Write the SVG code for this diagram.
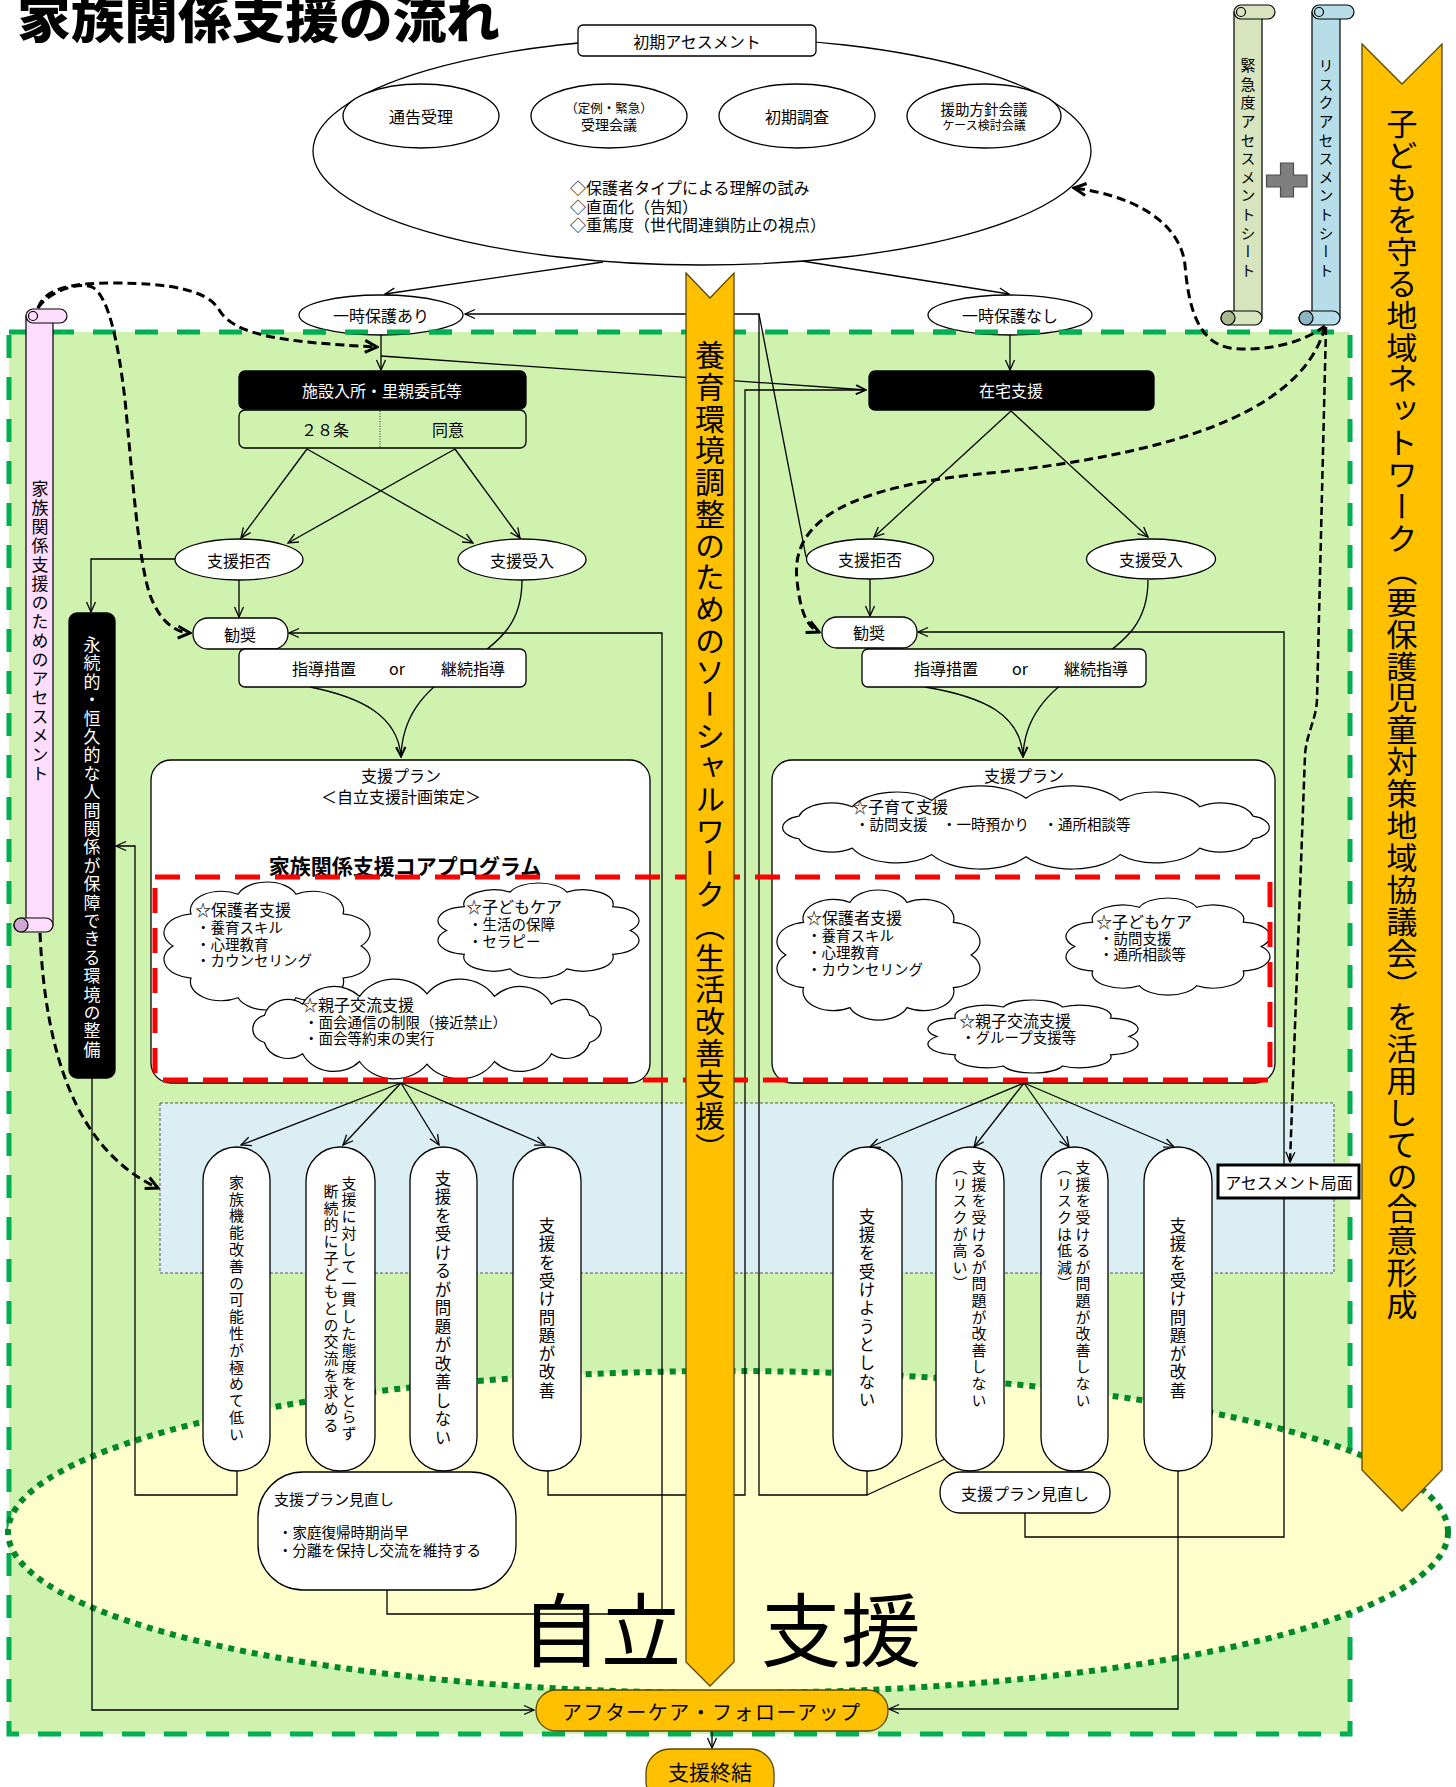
<svg xmlns="http://www.w3.org/2000/svg" width="1456" height="1787" viewBox="0 0 1456 1787" font-size="16">
<style>
.t{font-family:"Noto Sans CJK JP","Noto Sans",sans-serif;fill:#000}
.w{fill:#fff}
.c{text-anchor:middle;dominant-baseline:central}
.m{dominant-baseline:central}
.v{writing-mode:vertical-rl}
.vm{writing-mode:vertical-rl;text-anchor:middle}
.ln{fill:none;stroke:#000;stroke-width:1.3}
.dl{fill:none;stroke:#000;stroke-width:3;stroke-dasharray:9 5}
.wn{fill:#fff;stroke:#000;stroke-width:1.3}
.bk{fill:#000;stroke:#000;stroke-width:1.3}
.or{fill:#FFC000;stroke:#5a4800;stroke-width:1.3}
.cl{fill:#fff;stroke:#000;stroke-width:1.2}
</style>
<defs>
<marker id="a" viewBox="0 0 12 12" refX="11" refY="6" markerWidth="12" markerHeight="12" markerUnits="userSpaceOnUse" orient="auto"><path d="M1,1.5 L11,6 L1,10.5" fill="none" stroke="#000" stroke-width="1.3"/></marker>
<marker id="ad" viewBox="0 0 16 16" refX="14" refY="8" markerWidth="16" markerHeight="16" markerUnits="userSpaceOnUse" orient="auto"><path d="M2,2 L14,8 L2,14" fill="none" stroke="#000" stroke-width="3"/></marker>
<path id="cloud" class="cl" vector-effect="non-scaling-stroke" d="M7 42.3 A12.5 12.5 0 0 1 14.3 21.1 A12.5 12.5 0 0 1 33.3 8.1 A12.5 12.5 0 0 1 56.7 8.1 A12.5 12.5 0 0 1 75.7 21.1 A12.5 12.5 0 0 1 83 42.3 A12.5 12.5 0 0 1 75.7 63.5 A12.5 12.5 0 0 1 56.7 76.5 A12.5 12.5 0 0 1 33.3 76.5 A12.5 12.5 0 0 1 14.3 63.5 A12.5 12.5 0 0 1 7 42.3 Z"/>
<path id="cloudw" class="cl" vector-effect="non-scaling-stroke" d="M18.7 37.7 A8 8 0 0 1 18.7 22.3 A12 12 0 0 1 37.8 15.9 A17.3 17.3 0 0 1 66.3 11.5 A20.2 20.2 0 0 1 100 10 A20.2 20.2 0 0 1 133.7 11.5 A17.3 17.3 0 0 1 162.2 15.9 A12 12 0 0 1 181.3 22.3 A8 8 0 0 1 181.3 37.7 A12 12 0 0 1 162.2 44.1 A17.3 17.3 0 0 1 133.7 48.5 A20.2 20.2 0 0 1 100 50 A20.2 20.2 0 0 1 66.3 48.5 A17.3 17.3 0 0 1 37.8 44.1 A12 12 0 0 1 18.7 37.7 Z"/>
<clipPath id="ovl"><rect x="295" y="320" width="175" height="20"/><rect x="925" y="320" width="172" height="20"/></clipPath>
</defs>

<rect width="1456" height="1787" fill="#fff"/>

<!-- background regions -->
<g id="regions">
<rect x="9" y="332" width="1341" height="1402" fill="#CFF3AF" stroke="#00B050" stroke-width="5" stroke-dasharray="23 19"/>
<ellipse cx="728" cy="1532" rx="720" ry="161" fill="#FFFFCC" stroke="#00882A" stroke-width="6" stroke-dasharray="6 6"/>
<rect x="160" y="1103" width="1174" height="170" fill="#DAEEF3" stroke="#555" stroke-width="1" stroke-dasharray="3 2"/>
</g>

<text class="t" x="521" y="1660" font-size="80">自立　支援</text>

<!-- connectors -->
<g id="connectors">
<path class="ln" marker-end="url(#a)" d="M499 116 L530 116"/>
<path class="ln" marker-end="url(#a)" d="M687 116 L718 116"/>
<path class="ln" marker-end="url(#a)" d="M875 116 L905 116"/>
<path class="ln" marker-end="url(#a)" d="M603 262 L385 294"/>
<path class="ln" marker-end="url(#a)" d="M802 261 L1009 294"/>
<path class="ln" marker-end="url(#a)" d="M381 335 L381 370"/>
<path class="ln" marker-end="url(#a)" d="M381 356 L866 390"/>
<path class="ln" marker-end="url(#a)" d="M1010 335 L1010 370"/>
<path class="ln" marker-end="url(#a)" d="M307 449 L241 538"/>
<path class="ln" marker-end="url(#a)" d="M307 449 L473 543"/>
<path class="ln" marker-end="url(#a)" d="M455 449 L288 543"/>
<path class="ln" marker-end="url(#a)" d="M455 449 L520 538"/>
<path class="ln" marker-end="url(#a)" d="M1011 411 L874 537"/>
<path class="ln" marker-end="url(#a)" d="M1011 411 L1148 537"/>
<path class="ln" marker-end="url(#a)" d="M239 580 L239 617"/>
<path class="ln" marker-end="url(#a)" d="M870 579 L870 616"/>
<path class="ln" marker-end="url(#a)" d="M175 559 L91 559 L91 612"/>
<path class="ln" marker-end="url(#a)" d="M522 580 C522 620 505 640 460 668 C420 692 402 720 401 757"/>
<path class="ln" marker-end="url(#a)" d="M310 687 C360 697 398 715 401 757"/>
<path class="ln" marker-end="url(#a)" d="M1148 580 C1148 620 1130 640 1085 668 C1045 692 1024 720 1023 757"/>
<path class="ln" marker-end="url(#a)" d="M925 687 C985 697 1021 715 1023 757"/>
<path class="ln" marker-end="url(#a)" d="M401 1083 L241 1145"/>
<path class="ln" marker-end="url(#a)" d="M401 1083 L343 1145"/>
<path class="ln" marker-end="url(#a)" d="M401 1083 L439 1145"/>
<path class="ln" marker-end="url(#a)" d="M401 1083 L545 1145"/>
<path class="ln" marker-end="url(#a)" d="M1024 1083 L870 1147"/>
<path class="ln" marker-end="url(#a)" d="M1024 1083 L974 1147"/>
<path class="ln" marker-end="url(#a)" d="M1024 1083 L1069 1147"/>
<path class="ln" marker-end="url(#a)" d="M1024 1083 L1174 1147"/>
<path class="ln" marker-end="url(#a)" d="M237 1471 L237 1495 L135 1495 L135 846 L116 846"/>
<path class="ln" marker-end="url(#a)" d="M92 1078 L92 1710 L534 1710"/>
<path class="ln" marker-end="url(#a)" d="M548 1471 L548 1495 L745 1495 L745 390 L866 390"/>
<path class="ln" marker-end="url(#a)" d="M387 1590 L387 1614 L662 1614 L662 633 L289 633"/>
<path class="ln" marker-end="url(#a)" d="M867 1471 L867 1495 L759 1495 L759 314 L465 314"/>
<path class="ln" d="M945 1459 L867 1495"/>
<path class="ln" d="M806 557 L759 314"/>
<path class="ln" marker-end="url(#a)" d="M1025 1513 L1025 1537 L1284 1537 L1284 632 L918 632"/>
<path class="ln" marker-end="url(#a)" d="M1178 1471 L1178 1709 L889 1709"/>
<path class="ln" marker-end="url(#a)" d="M712 1731 L712 1748"/>
<path class="dl" marker-end="url(#ad)" d="M1325 326 C1300 345 1260 352 1230 348 C1195 342 1188 300 1185 265 C1180 220 1130 195 1074 188"/>
<path fill="none" stroke="#000" stroke-width="2.5" stroke-dasharray="8 4" marker-end="url(#a)" d="M1326 327 L1317 700 C1316 720 1306 735 1305 755 L1290 1162"/>
<path class="dl" marker-end="url(#ad)" d="M1325 327 C1300 420 1150 455 1000 472 C850 485 790 520 797 580 C800 610 806 626 819 632"/>
<path class="dl" marker-end="url(#ad)" d="M38 308 C45 287 75 283 113 283 C170 283 205 290 218 308 C232 335 280 342 377 347"/>
<path class="dl" marker-end="url(#ad)" d="M38 308 C50 290 80 282 92 287 C108 295 118 340 125 400 C132 470 138 560 150 595 C160 622 175 632 190 633"/>
<path class="dl" marker-end="url(#ad)" d="M40 933 C45 1050 75 1150 158 1188"/>
</g>

<!-- title -->
<text id="title" class="t" x="17" y="38" font-size="50" font-weight="900" textLength="483" lengthAdjust="spacingAndGlyphs">家族関係支援の流れ</text>

<!-- initial assessment -->
<g id="initial">
<ellipse class="wn" cx="702" cy="151" rx="389" ry="114"/>
<rect class="wn" x="578" y="25" width="238" height="31" rx="5"/>
<text class="t c" x="697" y="40.5">初期アセスメント</text>
<text class="t m" x="570" y="186.5">◇保護者タイプによる理解の試み</text>
<text class="t m" x="570" y="205.5">◇直面化（告知）</text>
<text class="t m" x="570" y="223.5">◇重篤度（世代間連鎖防止の視点）</text>
</g>
<g id="tsukoku"><ellipse class="wn" cx="421" cy="116" rx="78" ry="32"/><text class="t c" x="421" y="116">通告受理</text></g>
<g id="juri"><ellipse class="wn" cx="609" cy="116" rx="78" ry="32"/><text class="t c" x="609" y="107.5" font-size="12.5">（定例・緊急）</text><text class="t c" x="609" y="123.5" font-size="14">受理会議</text></g>
<g id="shoki"><ellipse class="wn" cx="797" cy="116" rx="78" ry="32"/><text class="t c" x="797" y="116">初期調査</text></g>
<g id="enjo"><ellipse class="wn" cx="984" cy="116" rx="77" ry="32"/><text class="t c" x="984" y="108.5" font-size="14.5">援助方針会議</text><text class="t c" x="984" y="124" font-size="12">ケース検討会議</text></g>

<g id="hogo-ari"><ellipse class="wn" cx="381" cy="315" rx="82" ry="20"/><text class="t c" x="381" y="315">一時保護あり</text></g>
<g id="hogo-nashi"><ellipse class="wn" cx="1010" cy="315" rx="82" ry="20"/><text class="t c" x="1010" y="315">一時保護なし</text></g>

<line x1="9" y1="332" x2="1350" y2="332" stroke="#00B050" stroke-width="5" stroke-dasharray="23 19" clip-path="url(#ovl)"/>

<!-- left branch -->
<g id="shisetsu"><rect class="bk" x="239" y="371" width="287" height="38" rx="6"/><text class="t c w" x="382" y="390">施設入所・里親委託等</text></g>
<g id="jo28"><rect x="239" y="410" width="287" height="38" rx="6" fill="none" stroke="#000" stroke-width="1.3"/><line x1="380" y1="411" x2="380" y2="447" stroke="#000" stroke-width="0.8" stroke-dasharray="1 1.5"/><text class="t c" x="325" y="429">２８条</text><text class="t c" x="448" y="429">同意</text></g>
<g id="kyohi-l"><ellipse class="wn" cx="239" cy="559.5" rx="64" ry="20.5"/><text class="t c" x="239" y="560">支援拒否</text></g>
<g id="ukeire-l"><ellipse class="wn" cx="522" cy="559.5" rx="64" ry="20.5"/><text class="t c" x="522" y="560">支援受入</text></g>
<g id="kansho-l"><rect class="wn" x="193" y="618" width="95" height="31" rx="15"/><text class="t c" x="240" y="634">勧奨</text></g>
<g id="shido-l"><rect class="wn" x="239" y="649" width="287" height="38" rx="6"/><text class="t c" x="324" y="668">指導措置</text><text class="t c" x="397" y="668">or</text><text class="t c" x="473" y="668">継続指導</text></g>

<!-- right branch -->
<g id="zaitaku"><rect class="bk" x="869" y="371" width="285" height="39" rx="6"/><text class="t c w" x="1011" y="390">在宅支援</text></g>
<g id="kyohi-r"><ellipse class="wn" cx="870" cy="559" rx="63.5" ry="20"/><text class="t c" x="870" y="559">支援拒否</text></g>
<g id="ukeire-r"><ellipse class="wn" cx="1151" cy="559" rx="64.5" ry="20"/><text class="t c" x="1151" y="559">支援受入</text></g>
<g id="kansho-r"><rect class="wn" x="822" y="617" width="95" height="31" rx="15"/><text class="t c" x="869" y="632">勧奨</text></g>
<g id="shido-r"><rect class="wn" x="862" y="649" width="284" height="38" rx="6"/><text class="t c" x="946" y="668">指導措置</text><text class="t c" x="1020" y="668">or</text><text class="t c" x="1096" y="668">継続指導</text></g>

<!-- support plans -->
<g id="plan-l">
<rect class="wn" x="151" y="760" width="499" height="323" rx="20"/>
<text class="t c" x="401" y="775">支援プラン</text>
<text class="t c" x="401" y="796">＜自立支援計画策定＞</text>
<text class="t c" x="405" y="865" font-size="21" font-weight="bold">家族関係支援コアプログラム</text>
<use href="#cloud" transform="translate(155.6 882) scale(2.476 1.513)"/>
<text class="t" x="195" y="916">☆保護者支援</text>
<text class="t" x="196" y="933" font-size="14.5">・養育スキル</text>
<text class="t" x="196" y="950" font-size="14.5">・心理教育</text>
<text class="t" x="196" y="966" font-size="14.5">・カウンセリング</text>
<use href="#cloud" transform="translate(429.8 883) scale(2.415 1.123)"/>
<text class="t" x="466" y="913">☆子どもケア</text>
<text class="t" x="468" y="930" font-size="14.5">・生活の保障</text>
<text class="t" x="468" y="947" font-size="14.5">・セラピー</text>
<use href="#cloudw" transform="translate(227 976.2) scale(2.0 1.759)"/>
<text class="t" x="302" y="1011">☆親子交流支援</text>
<text class="t" x="304" y="1028" font-size="14.5">・面会通信の制限（接近禁止）</text>
<text class="t" x="304" y="1044" font-size="14.5">・面会等約束の実行</text>
</g>
<g id="plan-r">
<rect class="wn" x="772" y="760" width="503" height="323" rx="20"/>
<text class="t c" x="1024" y="775">支援プラン</text>
<use href="#cloudw" transform="translate(746.7 783.5) scale(2.793 1.466)"/>
<text class="t" x="852" y="813">☆子育て支援</text>
<text class="t" x="855" y="830" font-size="14.5">・訪問支援　・一時預かり　・通所相談等</text>
<use href="#cloud" transform="translate(768.7 890) scale(2.439 1.537)"/>
<text class="t" x="806" y="924">☆保護者支援</text>
<text class="t" x="807" y="941" font-size="14.5">・養育スキル</text>
<text class="t" x="807" y="958" font-size="14.5">・心理教育</text>
<text class="t" x="807" y="975" font-size="14.5">・カウンセリング</text>
<use href="#cloud" transform="translate(1057.7 898) scale(2.451 1.147)"/>
<text class="t" x="1096" y="928">☆子どもケア</text>
<text class="t" x="1099" y="944" font-size="14.5">・訪問支援</text>
<text class="t" x="1099" y="960" font-size="14.5">・通所相談等</text>
<use href="#cloud" transform="translate(919.4 1000) scale(2.524 0.863)"/>
<text class="t" x="959" y="1027">☆親子交流支援</text>
<text class="t" x="961" y="1043" font-size="14.5">・グループ支援等</text>
</g>
<rect id="core-program" x="155" y="877" width="1115" height="203" fill="none" stroke="#FF0000" stroke-width="5" stroke-dasharray="25 15"/>

<!-- outcome pills left -->
<g id="pill-l1"><rect class="wn" x="203" y="1147" width="67" height="324" rx="33.5"/><text class="t vm" x="236.5" y="1309" font-size="15" letter-spacing="1.8">家族機能改善の可能性が極めて低い</text></g>
<g id="pill-l2"><rect class="wn" x="306" y="1147" width="69" height="324" rx="34"/><text class="t vm" x="349" y="1309" font-size="15" letter-spacing="1.7">支援に対して一貫した態度をとらず</text><text class="t vm" x="331" y="1309" font-size="15" letter-spacing="1.7">断続的に子どもとの交流を求める</text></g>
<g id="pill-l3"><rect class="wn" x="410" y="1147" width="67" height="324" rx="33.5"/><text class="t vm" x="443" y="1309" font-size="16.5" letter-spacing="2">支援を受けるが問題が改善しない</text></g>
<g id="pill-l4"><rect class="wn" x="513" y="1147" width="68" height="324" rx="34"/><text class="t vm" x="547" y="1309" font-size="16.5" letter-spacing="1.8">支援を受け問題が改善</text></g>
<!-- outcome pills right -->
<g id="pill-r1"><rect class="wn" x="833" y="1147" width="69" height="324" rx="34"/><text class="t vm" x="867" y="1309" font-size="16.5" letter-spacing="1.8">支援を受けようとしない</text></g>
<g id="pill-r2"><rect class="wn" x="936" y="1147" width="68" height="324" rx="34"/><text class="t v" x="979" y="1160" font-size="15" letter-spacing="1.6">支援を受けるが問題が改善しない</text><text class="t v" x="960" y="1160" font-size="15" letter-spacing="1.6">（リスクが高い）</text></g>
<g id="pill-r3"><rect class="wn" x="1041" y="1147" width="67" height="324" rx="33.5"/><text class="t v" x="1083" y="1160" font-size="15" letter-spacing="1.6">支援を受けるが問題が改善しない</text><text class="t v" x="1064.5" y="1160" font-size="15" letter-spacing="1.6">（リスクは低減）</text></g>
<g id="pill-r4"><rect class="wn" x="1144" y="1147" width="68" height="324" rx="34"/><text class="t vm" x="1178" y="1309" font-size="16.5" letter-spacing="1.8">支援を受け問題が改善</text></g>

<g id="review-l"><rect class="wn" x="258" y="1472" width="258" height="118" rx="45"/><text class="t m" x="274" y="1498" font-size="15">支援プラン見直し</text><text class="t m" x="278" y="1531" font-size="14.5">・家庭復帰時期尚早</text><text class="t m" x="278" y="1549" font-size="14.5">・分離を保持し交流を維持する</text></g>
<g id="review-r"><rect class="wn" x="940" y="1472" width="170" height="41" rx="20"/><text class="t c" x="1025" y="1493">支援プラン見直し</text></g>
<g id="assess-phase"><rect x="1218" y="1165" width="141" height="33" fill="#fff" stroke="#000" stroke-width="3"/><text class="t c" x="1289" y="1182">アセスメント局面</text></g>

<g id="aftercare"><rect class="or" x="536" y="1690" width="352" height="41" rx="20"/><text class="t m" x="562" y="1711" font-size="20" textLength="298" lengthAdjust="spacing">アフターケア・フォローアップ</text></g>
<g id="end"><rect class="or" x="646" y="1749" width="128" height="56" rx="24"/><text class="t c" x="710" y="1771" font-size="21">支援終結</text></g>

<!-- permanent relationship bar -->
<g id="eizoku"><rect class="bk" x="69" y="613" width="46" height="465" rx="8"/><text class="t v w" x="92" y="636" font-size="17" letter-spacing="1.4">永続的・恒久的な人間関係が保障できる環境の整備</text></g>

<!-- scrolls -->
<g id="scroll-family" stroke="#000" stroke-width="1.2">
<rect x="26" y="316" width="27" height="609" fill="#FFDDFF"/>
<rect x="14" y="918" width="39" height="14" rx="7" fill="#FFDDFF"/>
<circle cx="21" cy="925" r="7" fill="#CFA6CF"/>
<rect x="26" y="309" width="41" height="14" rx="7" fill="#FFDDFF"/>
<circle cx="33" cy="316" r="4.5" fill="#FFDDFF"/>
<text class="t v" x="40" y="480" font-size="17" letter-spacing="2" stroke="none">家族関係支援のためのアセスメント</text>
</g>
<g id="scroll-urgency" stroke="#000" stroke-width="1.2">
<rect x="1234" y="12" width="28" height="306" fill="#D7E4BD"/>
<rect x="1221" y="311" width="41" height="14" rx="7" fill="#D7E4BD"/>
<circle cx="1228" cy="318" r="7" fill="#A9B78E"/>
<rect x="1234" y="5" width="41" height="14" rx="7" fill="#D7E4BD"/>
<circle cx="1241" cy="12" r="4.5" fill="#D7E4BD"/>
<text class="t v" x="1248" y="58" font-size="15" letter-spacing="3.6" stroke="none">緊急度アセスメントシート</text>
</g>
<g id="plus"><path d="M1280.5 163 H1293.5 V175 H1307 V187 H1293.5 V197 H1280.5 V187 H1266.5 V175 H1280.5 Z" fill="#7F7F7F" stroke="#4D4D4D" stroke-width="1.2"/></g>
<g id="scroll-risk" stroke="#000" stroke-width="1.2">
<rect x="1312" y="12" width="28" height="306" fill="#B7DEE8"/>
<rect x="1299" y="311" width="41" height="14" rx="7" fill="#B7DEE8"/>
<circle cx="1306" cy="318" r="7" fill="#8DB4C2"/>
<rect x="1312" y="5" width="42" height="14" rx="7" fill="#B7DEE8"/>
<circle cx="1319" cy="12" r="4.5" fill="#B7DEE8"/>
<text class="t v" x="1326" y="58" font-size="15" letter-spacing="3.6" stroke="none">リスクアセスメントシート</text>
</g>

<!-- big orange arrows -->
<g id="socialwork">
<path class="or" d="M686 273 L710 298 L734 273 L734 1662 L710 1686 L686 1662 Z"/>
<text class="t v" x="710" y="340" font-size="30" letter-spacing="1.7">養育環境調整のためのソーシャルワーク（生活改善支援）</text>
</g>
<g id="network">
<path class="or" d="M1362 44 L1402 84 L1442 44 L1442 1470 L1402 1511 L1362 1470 Z"/>
<text class="t v" x="1402" y="108" font-size="31" letter-spacing="0.9">子どもを守る地域ネットワーク（要保護児童対策地域協議会）を活用しての合意形成</text>
</g>
</svg>
